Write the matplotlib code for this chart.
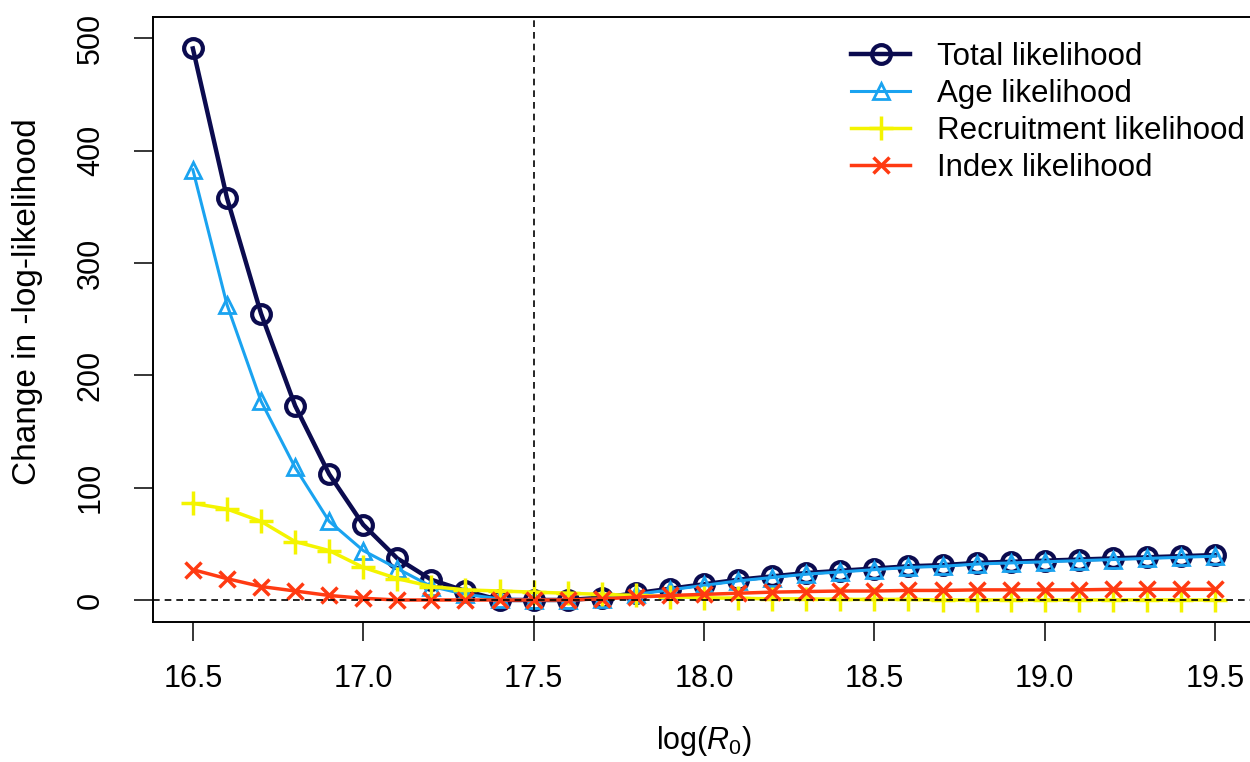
import matplotlib
matplotlib.use("Agg")
import matplotlib.pyplot as plt

plt.rcParams['font.family'] = ['Liberation Sans', 'DejaVu Sans']
plt.rcParams['mathtext.fontset'] = 'custom'
plt.rcParams['mathtext.rm'] = 'Liberation Sans'
plt.rcParams['mathtext.it'] = 'Liberation Sans:italic'

# log(R0) grid of the profile
logR0 = [16.5, 16.6, 16.7, 16.8, 16.9, 17.0, 17.1, 17.2, 17.3, 17.4, 17.5,
         17.6, 17.7, 17.8, 17.9, 18.0, 18.1, 18.2, 18.3, 18.4, 18.5,
         18.6, 18.7, 18.8, 18.9, 19.0, 19.1, 19.2, 19.3, 19.4, 19.5]

# change in -log-likelihood
total = [491, 358, 255, 173, 112, 67, 37, 18, 8, 0, 0, 0, 2, 6, 10, 14,
         18, 21, 24, 26, 28, 30, 31, 33, 34, 35, 36, 37, 38, 39, 40]
age = [383, 263, 177, 118, 70, 44, 28, 12, 5, 1, 0, 0, 1, 5, 9, 13,
       17, 20, 23, 25, 27, 29, 30, 32, 33, 34, 35, 36, 37, 38, 39]
recruit = [86, 81, 70, 52, 44, 29, 19, 12, 9, 8, 7, 6, 5, 4, 3, 2,
           1.5, 1, 1, 0.5, 0.5, 0.5, 0, 0, 0, 0, 0, 0, 0, 0, 0]
index = [27, 19, 12, 8, 4, 1.5, 0, 0, 0, 0, 0, 0, 1, 2.5, 4, 5,
         6, 7, 7.5, 8, 8, 8.5, 8.5, 9, 9, 9, 9, 9.5, 9.5, 9.5, 9.5]

labels = ["Total likelihood", "Age likelihood", "Recruitment likelihood", "Index likelihood"]
mle = 17.5

fig = plt.figure(figsize=(12.5, 7.62), dpi=100)
ax = fig.add_axes([153/1250, 140/762, 1102/1250, 605/762])

ax.plot(logR0, total, color="#0b0b4f", lw=3.2, marker="o", ms=13.5, mew=3,
        mfc="none", label=labels[0])
ax.plot(logR0, age, color="#1aa3f0", lw=2.2, marker="^", ms=12, mew=2,
        mfc="none", label=labels[1])
ax.plot(logR0, recruit, color="#f4f400", lw=2.5, marker="+", ms=17, mew=2.5,
        label=labels[2])
ax.plot(logR0, index, color="#ff3a12", lw=2.5, marker="x", ms=12, mew=2.5,
        label=labels[3])

ax.axvline(mle, color="black", lw=1.2, ls=(0, (4, 3)))
ax.axhline(0, color="black", lw=1.2, ls=(0, (4, 3)))

ax.set_xlim(16.383, 19.617)
ax.set_ylim(-19.6, 519)
ax.set_xticks([16.5, 17.0, 17.5, 18.0, 18.5, 19.0, 19.5])
ax.set_xticklabels(["16.5", "17.0", "17.5", "18.0", "18.5", "19.0", "19.5"])
ax.set_yticks([0, 100, 200, 300, 400, 500])

for s in ax.spines.values():
    s.set_linewidth(1.4)
ax.tick_params(axis='both', length=14, width=1.1, labelsize=22)
ax.tick_params(axis='x', pad=16)
ax.tick_params(axis='y', pad=20)
for t in ax.get_yticklabels():
    t.set_rotation(90)
    t.set_va('center')

ax.set_xlabel(r"log($R_0$)", fontsize=22, labelpad=22)
ax.set_ylabel("Change in -log-likelihood", fontsize=24)
ax.yaxis.set_label_coords(-0.1, 0.53)

ax.legend(loc="upper left", bbox_to_anchor=(851/1250, 1 - 42/762),
          bbox_transform=fig.transFigure, frameon=False, fontsize=22.5,
          handlelength=1.9, handletextpad=0.85, labelspacing=0.22,
          borderpad=0, borderaxespad=0)

fig.savefig("out.png", dpi=100)
